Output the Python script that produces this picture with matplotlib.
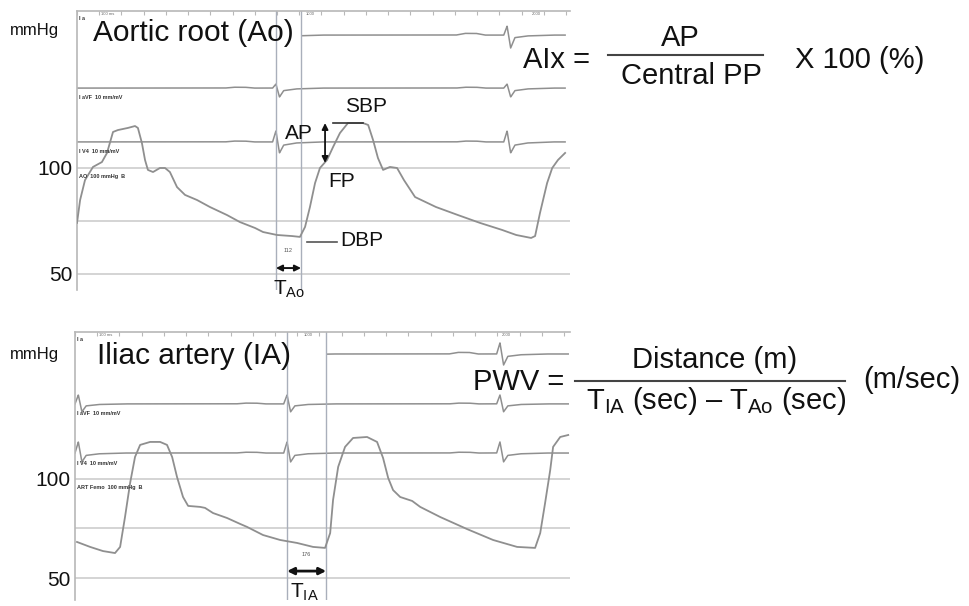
import matplotlib
matplotlib.use("Agg")
import matplotlib.pyplot as plt
import numpy as np

plt.rcParams['font.family'] = ['Liberation Sans', 'DejaVu Sans']
plt.rcParams['mathtext.fontset'] = 'custom'
plt.rcParams['mathtext.rm'] = 'Liberation Sans'
plt.rcParams['mathtext.it'] = 'Liberation Sans'
plt.rcParams['mathtext.default'] = 'regular'

# ---------------- data ----------------
# Aortic root pressure (time in ms, pressure in mmHg)
ao_time_ms = [0, 14, 36, 72, 112, 135, 162, 184, 229, 261, 274, 292, 306, 319, 342,
              373, 396, 418, 450, 486, 540, 598, 675, 733, 801, 837, 900, 967, 1003,
              1026, 1048, 1071, 1093, 1125, 1152, 1183, 1219, 1287, 1310, 1332, 1354,
              1377, 1408, 1440, 1471, 1521, 1615, 1714, 1813, 1912, 1976, 2043, 2061,
              2083, 2115, 2138, 2164, 2196]
ao_mmHg = [74.1, 84.9, 94.3, 100.5, 102.8, 107.1, 117.0, 117.9, 118.9, 119.8, 118.9,
           111.8, 103.8, 99.1, 98.1, 100.0, 100.0, 98.1, 91.0, 87.3, 84.9, 81.6, 77.8,
           74.5, 71.7, 69.8, 68.4, 67.9, 67.5, 72.2, 81.6, 92.9, 100.0, 103.8, 109.9,
           116.5, 121.2, 121.2, 120.3, 113.2, 104.7, 99.1, 100.5, 100.0, 94.3, 86.3,
           81.6, 77.8, 74.1, 70.8, 68.4, 67.0, 67.9, 78.8, 92.9, 100.0, 103.8, 107.1]

# Iliac artery pressure
ia_time_ms = [9, 68, 126, 180, 203, 225, 248, 270, 293, 338, 383, 414, 437, 459, 486,
              509, 563, 585, 621, 684, 743, 774, 846, 923, 999, 1071, 1125, 1148, 1161,
              1184, 1215, 1251, 1314, 1359, 1386, 1409, 1431, 1463, 1517, 1553, 1643,
              1764, 1881, 1989, 2070, 2093, 2115, 2138, 2151, 2183, 2219]
ia_mmHg = [68.2, 65.7, 63.6, 62.6, 65.7, 80.8, 98.0, 111.1, 117.2, 118.7, 118.7, 117.2,
           111.1, 101.0, 90.9, 86.4, 85.9, 85.4, 82.8, 80.3, 77.3, 75.8, 71.7, 69.2,
           67.7, 65.7, 65.2, 72.7, 89.4, 106.1, 116.2, 120.7, 121.2, 118.7, 110.6,
           100.5, 94.4, 90.9, 88.9, 85.9, 80.8, 74.7, 69.2, 65.7, 65.2, 72.7, 87.9,
           104.5, 116.2, 121.2, 122.2]

# ECG beat shape: time relative to R peak (ms) and deflection per lead
ecg_dt_ms = [-230, -190, -140, -100, -15, 0, 16, 35, 90, 200]
ao_lead_I = [0, 0.8, 0.8, 0, 0, 4.2, -6.1, -1.2, -0.4, 0]
ao_lead_aVF = [0, 0.4, 0.4, 0, 0, 1.9, -4.2, -1.2, -0.4, 0]
ao_lead_V4 = [0, 0.4, 0.4, 0, 0, 5.2, -5.2, -1.5, -0.5, 0]
ia_lead_I = [0, 0.8, 0.8, 0, 0, 5.6, -5.6, -1.2, -0.4, 0]
ia_lead_aVF = [0, 0.4, 0.4, 0, 0, 4.5, -4.0, -1.0, -0.3, 0]
ia_lead_V4 = [0, 0.4, 0.4, 0, 0, 5.6, -4.5, -1.2, -0.4, 0]
ao_qrs_ms = [895, 1935]
ia_qrs_ms = [15, 954, 1912]

# timing markers
T_ao = (895, 1008)      # 112 ms
T_ia = (954, 1130)      # 176 ms
sbp_mmHg, dbp_mmHg, fp_mmHg = 121.2, 65.1, 102.4

# ---------------- figure ----------------
W, H = 970, 606
fig = plt.figure(figsize=(W / 100, H / 100), dpi=100)
fig.patch.set_facecolor('white')

TRACE = '#8f8f8f'
GRID = '#c9c9c9'
VLINE = '#a9afbb'
FRAME = '#b8b8b8'
INK = '#111111'


def px_axes(x0, y0, x1, y1):
    return fig.add_axes([x0 / W, 1 - y1 / H, (x1 - x0) / W, (y1 - y0) / H])


def fx(x):
    return x / W


def fy(y):
    return 1 - y / H


def style(ax, xmax, ylim):
    ax.set_xlim(0, xmax)
    ax.set_ylim(*ylim)
    ax.set_facecolor('none')
    for s in ['right', 'bottom']:
        ax.spines[s].set_visible(False)
    for s in ['top', 'left']:
        ax.spines[s].set_color(FRAME)
        ax.spines[s].set_linewidth(1.2)
    ax.xaxis.tick_top()
    ax.set_xticks(np.arange(0, xmax, 100))
    ax.tick_params(axis='x', direction='in', length=3, color=FRAME,
                   labeltop=False, labelbottom=False)
    ax.set_yticks([50, 100])
    ax.set_yticklabels(['50', '100'], fontsize=15, color=INK)
    ax.tick_params(axis='y', length=0, pad=3)
    for v in [50, 75, 100]:
        ax.axhline(v, color=GRID, lw=1.1, zorder=1)


def ecg(ax, base, vals, qrs, t0, t1):
    t = np.linspace(t0, t1, 3000)
    y = np.full_like(t, base, dtype=float)
    for q in qrs:
        y += np.interp(t - q, ecg_dt_ms, vals, left=0, right=0)
    ax.plot(t, y, color=TRACE, lw=1.1, zorder=2)


# ---- top panel: aortic root ----
ax1 = px_axes(77, 11, 570, 290)
style(ax1, 2218, (42.45, 174.06))
ecg(ax1, 162.7, ao_lead_I, ao_qrs_ms, 1013, 2196)
ecg(ax1, 137.7, ao_lead_aVF, ao_qrs_ms, 0, 2196)
ecg(ax1, 112.3, ao_lead_V4, ao_qrs_ms, 0, 2196)
ax1.plot(ao_time_ms, ao_mmHg, color=TRACE, lw=1.3, zorder=3)
for t in T_ao:
    ax1.axvline(t, color=VLINE, lw=1.0, zorder=2)

ax1.annotate('', xy=(1116, fp_mmHg), xytext=(1116, sbp_mmHg),
             arrowprops=dict(arrowstyle='<|-|>', color=INK, lw=1.3,
                             mutation_scale=9, shrinkA=0, shrinkB=0), zorder=5)
ax1.plot([1152, 1287], [sbp_mmHg, sbp_mmHg], color='#333333', lw=1.2, zorder=4)
ax1.plot([1035, 1170], [dbp_mmHg, dbp_mmHg], color='#555555', lw=1.2, zorder=4)
ax1.text(1062, 116.5, 'AP', fontsize=15, ha='right', va='center', color=INK)
ax1.text(1300, 128.8, 'SBP', fontsize=15, ha='center', va='center', color=INK)
ax1.text(1192, 93.4, 'FP', fontsize=15, ha='center', va='center', color=INK)
ax1.text(1183, 66.0, 'DBP', fontsize=15, ha='left', va='center', color=INK)
ax1.annotate('', xy=(T_ao[0], 52.8), xytext=(T_ao[1], 52.8),
             arrowprops=dict(arrowstyle='<|-|>', color=INK, lw=1.4,
                             mutation_scale=9, shrinkA=0, shrinkB=0), zorder=5)
ax1.text(sum(T_ao) / 2, 61.3, '112', fontsize=4, ha='center', va='center', color='#555555')

# tiny channel labels
for y, s in [(170.5, 'I a'), (133.2, 'I aVF  10 mm/mV'), (108.0, 'I V4  10 mm/mV'),
             (95.8, 'AO  100 mmHg  B')]:
    ax1.text(8, y, s, fontsize=4, color='#333333', fontweight='bold', va='center')
ax1.text(110, 172.5, '100 ms', fontsize=3, color='#666666', va='center')
ax1.text(1030, 172.5, '1000', fontsize=3, color='#666666', va='center')
ax1.text(2045, 172.5, '2000', fontsize=3, color='#666666', va='center')

# ---- bottom panel: iliac artery ----
ax2 = px_axes(75, 332, 570, 600)
style(ax2, 2227, (38.9, 174.2))
ecg(ax2, 163.1, ia_lead_I, ia_qrs_ms, 1133, 2219)
ecg(ax2, 137.9, ia_lead_aVF, ia_qrs_ms, 0, 2219)
ecg(ax2, 113.1, ia_lead_V4, ia_qrs_ms, 0, 2219)
ax2.plot(ia_time_ms, ia_mmHg, color=TRACE, lw=1.3, zorder=3)
for t in T_ia:
    ax2.axvline(t, color=VLINE, lw=1.0, zorder=2)
ax2.annotate('', xy=(T_ia[0], 53.5), xytext=(T_ia[1], 53.5),
             arrowprops=dict(arrowstyle='<|-|>', color=INK, lw=2.0,
                             mutation_scale=10, shrinkA=0, shrinkB=0), zorder=5)
ax2.text(sum(T_ia) / 2, 62.1, '176', fontsize=4, ha='center', va='center', color='#555555')
for y, s in [(170.5, 'I a'), (133.0, 'I aVF  10 mm/mV'), (107.8, 'I V4  10 mm/mV'),
             (95.7, 'ART Femo  100 mmHg  B')]:
    ax2.text(8, y, s, fontsize=4, color='#333333', fontweight='bold', va='center')
ax2.text(110, 172.5, '100 ms', fontsize=3, color='#666666', va='center')
ax2.text(1030, 172.5, '1000', fontsize=3, color='#666666', va='center')
ax2.text(1920, 172.5, '2000', fontsize=3, color='#666666', va='center')

# ---- panel titles / units ----
fig.text(fx(10), fy(31), 'mmHg', fontsize=12, ha='left', va='center', color=INK)
fig.text(fx(93), fy(33), 'Aortic root (Ao)', fontsize=21.5, ha='left', va='center', color=INK)
fig.text(fx(10), fy(354), 'mmHg', fontsize=12, ha='left', va='center', color=INK)
fig.text(fx(97), fy(356), 'Iliac artery (IA)', fontsize=21.5, ha='left', va='center', color=INK)

fig.text(fx(289), fy(289), r'$\mathrm{T}_{\mathrm{Ao}}$', fontsize=15, ha='center', va='center', color=INK)
fig.text(fx(304), fy(592), r'$\mathrm{T}_{\mathrm{IA}}$', fontsize=15, ha='center', va='center', color=INK)

# ---- formulas ----
FS = 21
fig.text(fx(523), fy(60), 'AIx =', fontsize=FS, ha='left', va='center', color=INK)
fig.text(fx(680), fy(38), 'AP', fontsize=FS, ha='center', va='center', color=INK)
fig.lines.append(plt.Line2D([fx(608), fx(763)], [fy(55), fy(55)], color='#444444', lw=1.5,
                            transform=fig.transFigure))
fig.text(fx(691), fy(76), 'Central PP', fontsize=FS, ha='center', va='center', color=INK)
fig.text(fx(795), fy(60), 'X 100 (%)', fontsize=FS, ha='left', va='center', color=INK)

fig.text(fx(473), fy(382), 'PWV =', fontsize=FS, ha='left', va='center', color=INK)
fig.text(fx(715), fy(360), 'Distance (m)', fontsize=FS, ha='center', va='center', color=INK)
fig.lines.append(plt.Line2D([fx(575), fx(845)], [fy(381), fy(381)], color='#444444', lw=1.5,
                            transform=fig.transFigure))
fig.text(fx(716), fy(401), r'$\mathrm{T}_{\mathrm{IA}}$ (sec) – $\mathrm{T}_{\mathrm{Ao}}$ (sec)',
         fontsize=FS, ha='center', va='center', color=INK)
fig.text(fx(863), fy(380), '(m/sec)', fontsize=FS, ha='left', va='center', color=INK)

fig.savefig('out.png', dpi=100, facecolor='white')
